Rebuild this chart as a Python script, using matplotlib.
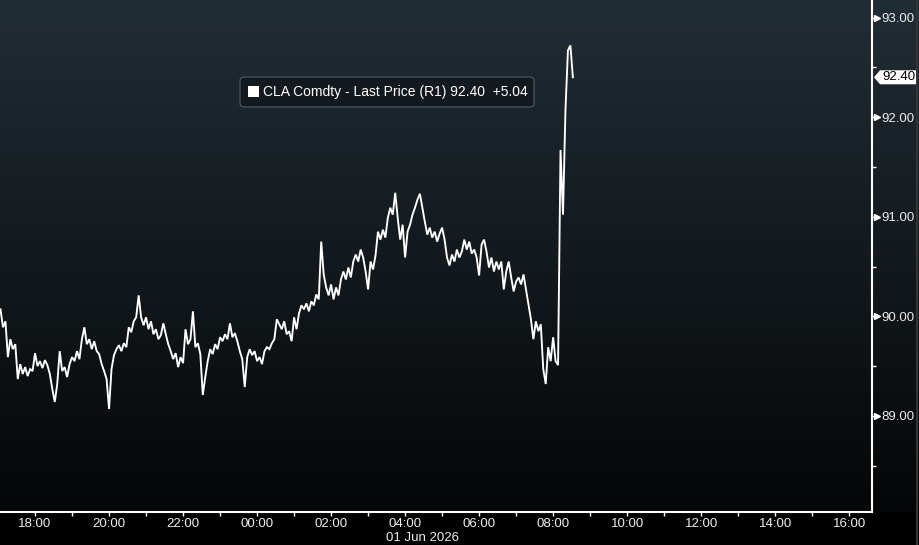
import numpy as np
import pandas as pd
import matplotlib
matplotlib.use("Agg")
import matplotlib.pyplot as plt
import matplotlib.dates as mdates
from matplotlib.patches import FancyBboxPatch, Rectangle, Polygon
from matplotlib.ticker import MultipleLocator, FormatStrFormatter

# CLA Comdty last price, 4-minute samples from 17:04 on 31 May 2026
start = "2026-05-31 17:04"
step = "4min"
prices = [
    90.07, 89.89, 89.95, 89.59, 89.77, 89.67, 89.72, 89.37, 89.52, 89.42,
    89.49, 89.40, 89.47, 89.45, 89.63, 89.50, 89.55, 89.48, 89.56, 89.51,
    89.42, 89.27, 89.14, 89.32, 89.65, 89.45, 89.49, 89.39, 89.52, 89.59,
    89.55, 89.65, 89.57, 89.77, 89.89, 89.72, 89.77, 89.67, 89.75, 89.65,
    89.62, 89.52, 89.45, 89.37, 89.07, 89.47, 89.61, 89.67, 89.71, 89.65,
    89.73, 89.69, 89.89, 89.84, 89.95, 89.99, 90.21, 89.99, 89.91, 89.99,
    89.87, 89.95, 89.82, 89.87, 89.77, 89.81, 89.93, 89.82, 89.72, 89.65,
    89.57, 89.63, 89.49, 89.59, 89.53, 89.87, 89.72, 89.77, 90.05, 89.69,
    89.73, 89.62, 89.21, 89.39, 89.55, 89.67, 89.62, 89.72, 89.67, 89.79,
    89.75, 89.82, 89.77, 89.93, 89.79, 89.83, 89.75, 89.65, 89.57, 89.29,
    89.59, 89.67, 89.61, 89.65, 89.55, 89.59, 89.52, 89.65, 89.69, 89.67,
    89.73, 89.77, 89.97, 89.92, 89.87, 89.95, 89.82, 89.85, 89.75, 89.99,
    89.87, 90.03, 90.11, 90.07, 90.13, 90.05, 90.15, 90.11, 90.22, 90.17,
    90.75, 90.42, 90.29, 90.21, 90.32, 90.17, 90.29, 90.21, 90.37, 90.45,
    90.37, 90.49, 90.39, 90.55, 90.62, 90.55, 90.67, 90.59, 90.45, 90.27,
    90.55, 90.47, 90.61, 90.85, 90.77, 90.87, 90.79, 90.99, 91.09, 91.02,
    91.24, 90.99, 90.77, 90.92, 90.59, 90.85, 90.92, 91.02, 91.09, 91.17,
    91.23, 91.09, 90.95, 90.82, 90.89, 90.79, 90.85, 90.75, 90.83, 90.89,
    90.77, 90.59, 90.51, 90.62, 90.55, 90.67, 90.59, 90.65, 90.77, 90.67,
    90.75, 90.63, 90.67, 90.59, 90.41, 90.72, 90.77, 90.65, 90.49, 90.59,
    90.45, 90.55, 90.47, 90.55, 90.27, 90.45, 90.55, 90.39, 90.25, 90.35,
    90.39, 90.32, 90.42, 90.27, 90.12, 89.97, 89.77, 89.95, 89.85, 89.92,
    89.47, 89.32, 89.69, 89.55, 89.79, 89.55, 89.51, 91.67, 91.02, 92.07,
    92.67, 92.72, 92.40,
]
last_price = "92.40"
legend_text = "CLA Comdty - Last Price (R1) 92.40  +5.04"
date_label = "01 Jun 2026"

times = pd.date_range(start, periods=len(prices), freq=step)

W, H = 920, 545
PT = 72 / 100  # points per pixel at dpi 100
fig = plt.figure(figsize=(W / 100, H / 100), dpi=100)
fig.patch.set_facecolor("black")

# background gradient (dark slate at top to black at the axis line)
bg = fig.add_axes([0, 0, 1, 1], zorder=-10)
bg.axis("off")
top = np.array([33, 45, 53]) / 255
bot = np.array([5, 6, 7]) / 255
rows = np.zeros((H, 1, 3))
n = 512
f = np.linspace(0, 1, n)[:, None]
rows[:n, 0, :] = top * (1 - f) + bot * f
bg.imshow(rows, aspect="auto", extent=[0, 1, 0, 1], interpolation="bilinear")
bg.set_xlim(0, 1)
bg.set_ylim(0, 1)

font = "Liberation Sans"
fg = "#ececec"

ax = fig.add_axes([0, (H - 512) / H, 872 / W, 512 / H])
ax.set_facecolor("none")
ax.plot(times, prices, color="white", lw=1.35, solid_joinstyle="miter")

ax.set_xlim(pd.Timestamp("2026-05-31 17:03:12"), pd.Timestamp("2026-06-01 16:37:00"))
ax.set_ylim(88.035, 93.176)

for s in ["left", "top"]:
    ax.spines[s].set_visible(False)
for s in ["right", "bottom"]:
    ax.spines[s].set_color("white")
    ax.spines[s].set_linewidth(1.5)

ax.xaxis.set_major_locator(mdates.HourLocator(byhour=range(0, 24, 2)))
ax.xaxis.set_minor_locator(mdates.HourLocator())
ax.xaxis.set_major_formatter(mdates.DateFormatter("%H:%M"))
ax.tick_params(axis="x", which="both", colors="white", length=4 * PT, width=1,
               direction="out", pad=2 * PT, labelsize=9.5, labelcolor=fg)

ax.yaxis.tick_right()
ax.yaxis.set_major_locator(MultipleLocator(1))
ax.yaxis.set_minor_locator(MultipleLocator(0.5))
ax.yaxis.set_major_formatter(FormatStrFormatter("%.2f"))
ax.tick_params(axis="y", which="major", colors="white", length=6 * PT, width=1,
               pad=3 * PT, labelsize=9.5, labelcolor=fg)
ax.tick_params(axis="y", which="minor", colors="white", length=4 * PT, width=1)
for lab in ax.get_xticklabels() + ax.get_yticklabels():
    lab.set_fontfamily(font)

# little arrow heads on the major price ticks
yt = [v for v in ax.get_yticks() if 88.035 <= v <= 93.176]
ax.plot([1 + 5.5 / 872] * len(yt), yt, ls="none", marker=">", ms=4, color="white",
        transform=ax.get_yaxis_transform(), clip_on=False)

# date under the 04:00 label
ax.annotate(date_label, xy=(pd.Timestamp("2026-06-01 04:00"), 0),
            xycoords=("data", "axes fraction"), xytext=(-19, -20),
            textcoords="offset pixels", ha="left", va="top",
            fontsize=9.5, color=fg, family=font, annotation_clip=False)

# last price tag on the right axis
lp = float(last_price)
hh = 7 / 99.6
tag = Polygon([(1 + 2 / 872, lp), (1 + 8 / 872, lp + hh), (1 + 45 / 872, lp + hh),
               (1 + 45 / 872, lp - hh), (1 + 8 / 872, lp - hh)], closed=True,
              facecolor="white", edgecolor="none",
              transform=ax.get_yaxis_transform(), clip_on=False, zorder=5)
ax.add_patch(tag)
ax.text(1 + 27 / 872, lp, last_price, transform=ax.get_yaxis_transform(),
        ha="center", va="center", fontsize=9.5, color="black", family=font,
        zorder=6, clip_on=False)

# legend box (drawn in inches so the corners stay round)
tr = fig.dpi_scale_trans
box = FancyBboxPatch((2.40, (H - 107) / 100), 2.94, 0.30,
                     boxstyle="round,pad=0,rounding_size=0.04",
                     facecolor="#131a1f", edgecolor="#46505a", lw=1,
                     transform=tr, zorder=20)
fig.patches.append(box)
fig.patches.append(Rectangle((2.48, (H - 97) / 100), 0.11, 0.11,
                             facecolor="white", edgecolor="none",
                             transform=tr, zorder=21))
fig.text(2.63, (H - 92) / 100, legend_text, transform=tr, ha="left",
         va="center", fontsize=10, color="white", family=font, zorder=22)

# thin grey edge at the far right
fig.add_artist(plt.Line2D([917.5 / W, 917.5 / W], [0, 1], color="#353535",
                          lw=1.5, transform=fig.transFigure))

fig.savefig("out.png", dpi=100, facecolor=fig.get_facecolor())
